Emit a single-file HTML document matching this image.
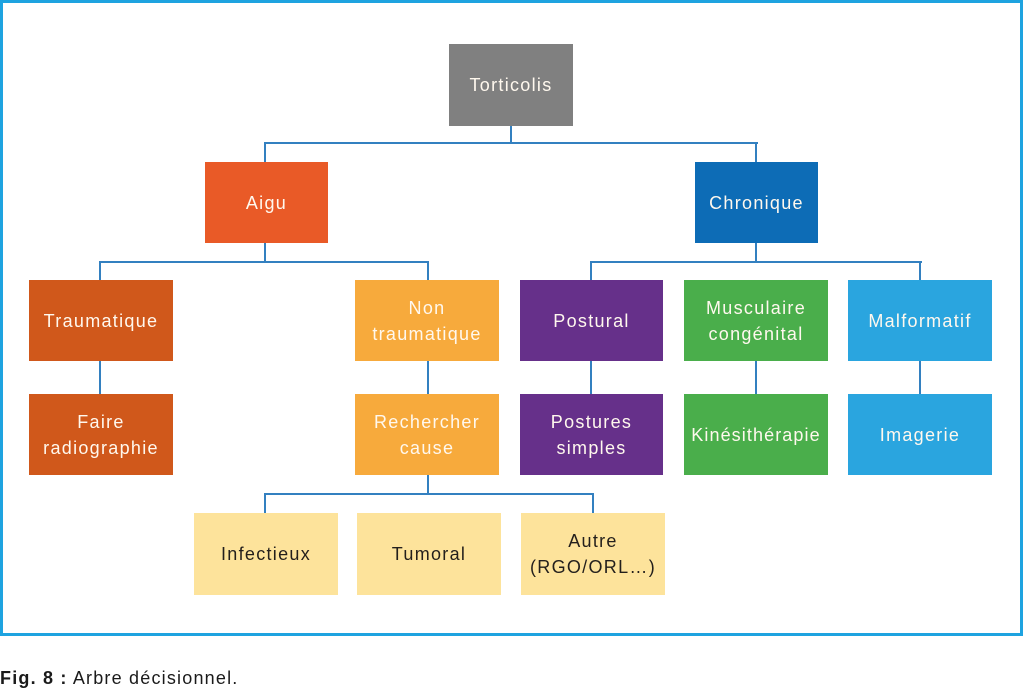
<!DOCTYPE html>
<html><head><meta charset="utf-8"><style>
html,body{margin:0;padding:0;background:#fff;}
body{width:1024px;height:691px;position:relative;overflow:hidden;font-family:"Liberation Sans",sans-serif;}
.frame{position:absolute;left:0;top:0;width:1017px;height:630px;border:3px solid #1ea3e0;}
.b{position:absolute;display:flex;align-items:center;justify-content:center;text-align:center;color:#fff8ee;font-size:18px;letter-spacing:1.3px;line-height:26px;}
.y{background:#fde39b;color:#231f1c;}
.h{position:absolute;height:2px;background:#3380c0;}
.v{position:absolute;width:2px;background:#3380c0;}
.cap{position:absolute;left:0;top:668px;font-size:18px;letter-spacing:1.2px;color:#1a1a1a;}
</style></head><body>
<div class="frame"></div>

<!-- connectors -->
<div class="v" style="left:510px;top:126px;height:17px"></div>
<div class="h" style="left:264px;top:142px;width:494px"></div>
<div class="v" style="left:264px;top:142px;height:20px"></div>
<div class="v" style="left:755px;top:142px;height:20px"></div>

<div class="v" style="left:264px;top:243px;height:19px"></div>
<div class="h" style="left:99px;top:261px;width:330px"></div>
<div class="v" style="left:99px;top:261px;height:19px"></div>
<div class="v" style="left:427px;top:261px;height:19px"></div>

<div class="v" style="left:755px;top:243px;height:19px"></div>
<div class="h" style="left:590px;top:261px;width:332px"></div>
<div class="v" style="left:590px;top:261px;height:19px"></div>
<div class="v" style="left:919px;top:261px;height:19px"></div>

<div class="v" style="left:99px;top:361px;height:33px"></div>
<div class="v" style="left:427px;top:361px;height:33px"></div>
<div class="v" style="left:590px;top:361px;height:33px"></div>
<div class="v" style="left:755px;top:361px;height:33px"></div>
<div class="v" style="left:919px;top:361px;height:33px"></div>

<div class="v" style="left:427px;top:475px;height:19px"></div>
<div class="h" style="left:264px;top:493px;width:330px"></div>
<div class="v" style="left:264px;top:493px;height:20px"></div>
<div class="v" style="left:592px;top:493px;height:20px"></div>

<!-- boxes -->
<div class="b" style="left:449px;top:44px;width:124px;height:82px;background:#808080">Torticolis</div>
<div class="b" style="left:205px;top:162px;width:123px;height:81px;background:#e95a27">Aigu</div>
<div class="b" style="left:695px;top:162px;width:123px;height:81px;background:#0d6cb6">Chronique</div>

<div class="b" style="left:29px;top:280px;width:144px;height:81px;background:#d0581b">Traumatique</div>
<div class="b" style="left:355px;top:280px;width:144px;height:81px;background:#f7aa3c">Non<br>traumatique</div>
<div class="b" style="left:520px;top:280px;width:143px;height:81px;background:#66308a">Postural</div>
<div class="b" style="left:684px;top:280px;width:144px;height:81px;background:#4aae4b">Musculaire<br>congénital</div>
<div class="b" style="left:848px;top:280px;width:144px;height:81px;background:#2aa5df">Malformatif</div>

<div class="b" style="left:29px;top:394px;width:144px;height:81px;background:#d0581b">Faire<br>radiographie</div>
<div class="b" style="left:355px;top:394px;width:144px;height:81px;background:#f7aa3c">Rechercher<br>cause</div>
<div class="b" style="left:520px;top:394px;width:143px;height:81px;background:#66308a">Postures<br>simples</div>
<div class="b" style="left:684px;top:394px;width:144px;height:81px;background:#4aae4b;letter-spacing:1.1px">Kinésithérapie</div>
<div class="b" style="left:848px;top:394px;width:144px;height:81px;background:#2aa5df">Imagerie</div>

<div class="b y" style="left:194px;top:513px;width:144px;height:82px">Infectieux</div>
<div class="b y" style="left:357px;top:513px;width:144px;height:82px">Tumoral</div>
<div class="b y" style="left:521px;top:513px;width:144px;height:82px">Autre<br>(RGO/ORL…)</div>

<div class="cap"><b>Fig. 8 :</b> Arbre décisionnel.</div>
</body></html>
